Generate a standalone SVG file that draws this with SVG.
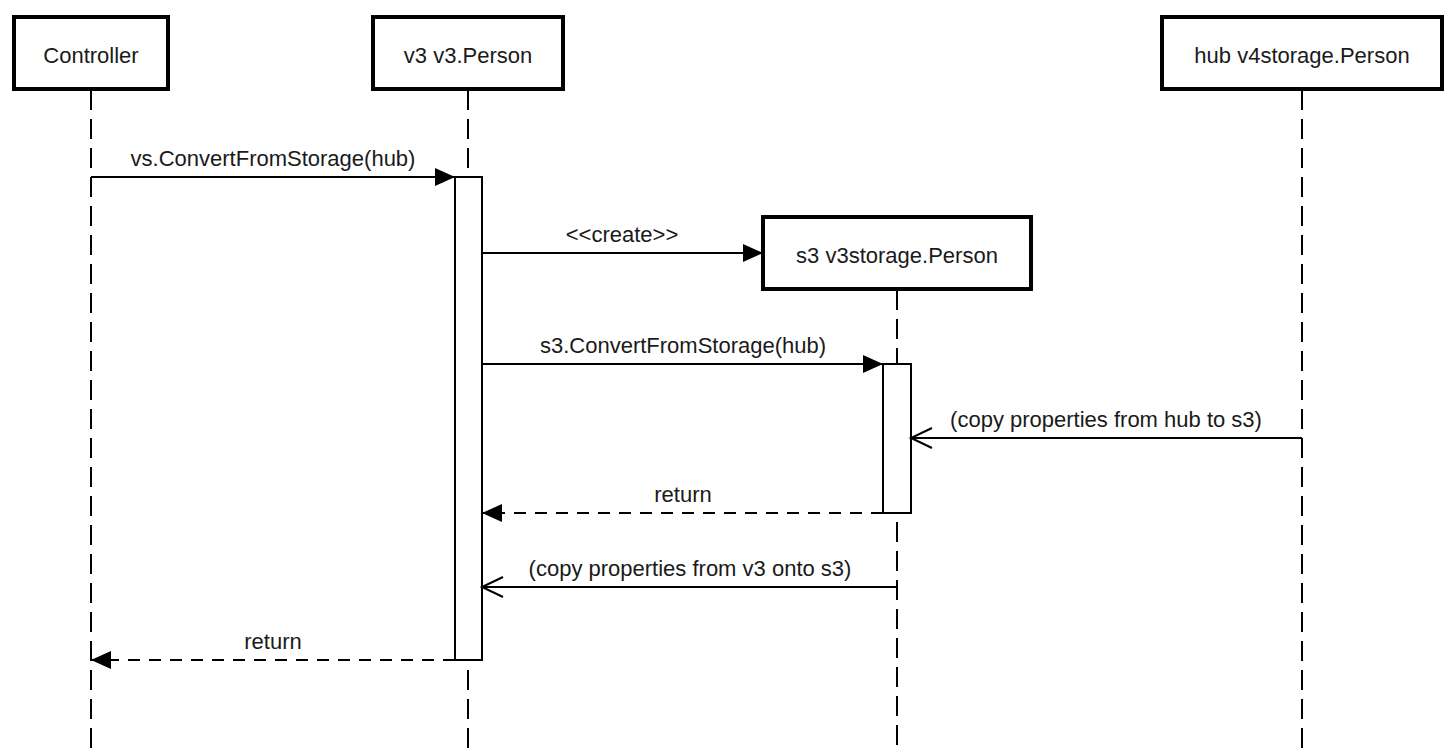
<svg xmlns="http://www.w3.org/2000/svg" width="1454" height="752" viewBox="0 0 1454 752">
<style>
  .box { fill: #ffffff; stroke: #000000; stroke-width: 4; }
  .life { stroke: #000000; stroke-width: 2; stroke-dasharray: 20 9; fill: none; }
  .act { fill: #ffffff; stroke: #000000; stroke-width: 2; }
  .msg { stroke: #000000; stroke-width: 2; fill: none; }
  .ret { stroke: #000000; stroke-width: 2; fill: none; stroke-dasharray: 12 9; }
  text { font-family: "Liberation Sans", Arial, sans-serif; font-size: 22px; fill: #1a1a1a; text-anchor: middle; }
</style>
<defs>
  <marker id="filled" viewBox="0 0 20 20" refX="20" refY="10" markerWidth="20" markerHeight="20" markerUnits="userSpaceOnUse" orient="auto">
    <path d="M0,1 L20,10 L0,19 Z" fill="#000000"/>
  </marker>
  <marker id="open" viewBox="-2 -2 26 24" refX="21" refY="10" markerWidth="26" markerHeight="24" markerUnits="userSpaceOnUse" orient="auto">
    <path d="M0,0 L21,10 L0,20" fill="none" stroke="#000000" stroke-width="2"/>
  </marker>
</defs>
<rect width="1454" height="752" fill="#ffffff"/>

<g id="lifelines">
  <line class="life" x1="91" y1="90" x2="91" y2="752"/>
  <line class="life" x1="468" y1="90" x2="468" y2="752"/>
  <line class="life" x1="897" y1="290" x2="897" y2="752"/>
  <line class="life" x1="1302" y1="90" x2="1302" y2="752"/>
</g>

<g id="controller">
  <rect class="box" x="14" y="17" width="154" height="72"/>
  <text x="91" y="63">Controller</text>
</g>
<g id="v3">
  <rect class="box" x="373" y="17" width="190" height="72"/>
  <text x="468" y="63">v3 v3.Person</text>
</g>
<g id="hub">
  <rect class="box" x="1162" y="17" width="280" height="72"/>
  <text x="1302" y="63">hub v4storage.Person</text>
</g>
<g id="s3">
  <rect class="box" x="763" y="217" width="268" height="72"/>
  <text x="897" y="263">s3 v3storage.Person</text>
</g>

<g id="activations">
  <rect class="act" x="455" y="177" width="27" height="483"/>
  <rect class="act" x="883" y="364" width="28" height="149"/>
</g>

<g id="connectors">
  <line class="msg" x1="91" y1="177" x2="455" y2="177" marker-end="url(#filled)"/>
  <text x="273" y="166">vs.ConvertFromStorage(hub)</text>

  <line class="msg" x1="482" y1="253" x2="763" y2="253" marker-end="url(#filled)"/>
  <text x="622" y="242">&lt;&lt;create&gt;&gt;</text>

  <line class="msg" x1="482" y1="364" x2="883" y2="364" marker-end="url(#filled)"/>
  <text x="683" y="353">s3.ConvertFromStorage(hub)</text>

  <line class="msg" x1="1302" y1="438" x2="911" y2="438" marker-end="url(#open)"/>
  <text x="1106" y="427">(copy properties from hub to s3)</text>

  <line class="ret" x1="883" y1="513" x2="482" y2="513" marker-end="url(#filled)"/>
  <text x="683" y="502">return</text>

  <line class="msg" x1="897" y1="587" x2="482" y2="587" marker-end="url(#open)"/>
  <text x="690" y="576">(copy properties from v3 onto s3)</text>

  <line class="ret" x1="455" y1="660" x2="91" y2="660" marker-end="url(#filled)"/>
  <text x="273" y="649">return</text>
</g>
</svg>
